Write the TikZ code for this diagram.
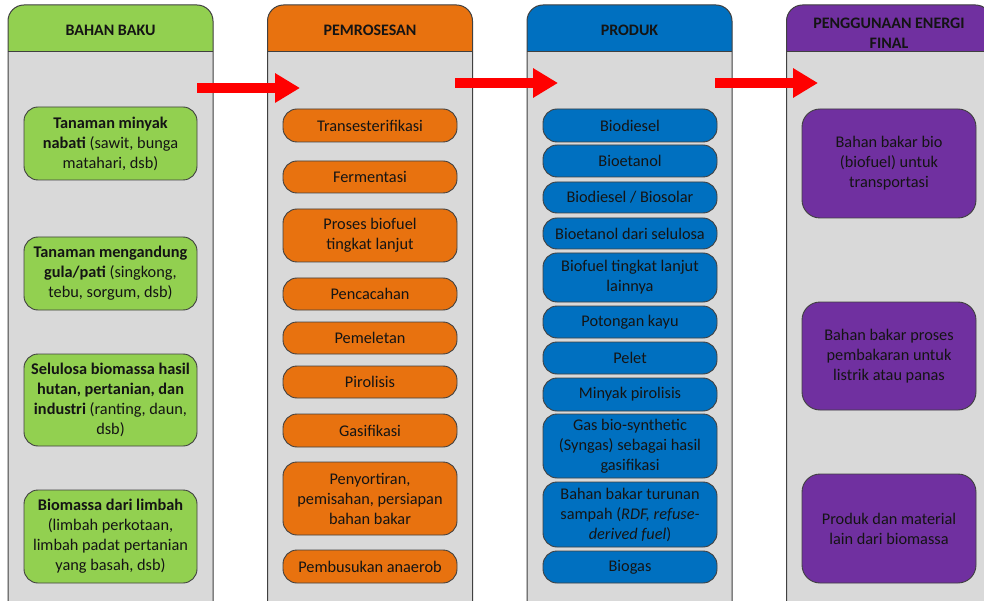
\documentclass[tikz,border=0pt]{standalone}
\usepackage{fontspec}
\setmainfont{Carlito}
\usetikzlibrary{arrows.meta}
\definecolor{frame}{HTML}{404040}
\definecolor{panel}{HTML}{D9D9D9}
\definecolor{cgreen}{HTML}{92D050}
\definecolor{corange}{HTML}{E8720F}
\definecolor{cblue}{HTML}{0070C0}
\definecolor{cpurple}{HTML}{7030A0}
\definecolor{ink}{HTML}{141414}

% panel: #1 centre x, #2 header colour
\newcommand\drawpanel[2]{%
  \fill[panel, rounded corners=16pt] (#1-102.5,650) rectangle (#1+102.5,5);
  \begin{scope}
    \clip (#1-110,0) rectangle (#1+110,52);
    \fill[#2, rounded corners=16pt] (#1-102.5,650) rectangle (#1+102.5,5);
  \end{scope}
  \draw[frame, line width=1pt] (#1-102.5,52) -- (#1+102.5,52);
  \draw[frame, line width=1pt, rounded corners=16pt] (#1-102.5,650) rectangle (#1+102.5,5);
}

\begin{document}
\begin{tikzpicture}[x=1pt,y=-1pt,
  item/.style={draw=frame, line width=0.9pt, rounded corners=14pt, align=center,
    text=ink, inner sep=2pt, font=\fontsize{16.3}{20}\selectfont},
  green/.style={item, fill=cgreen, minimum width=173pt},
  orange/.style={item, fill=corange, minimum width=174pt},
  blue/.style={item, fill=cblue, minimum width=174pt},
  purple/.style={item, fill=cpurple, minimum width=174pt, rounded corners=18pt},
  head/.style={align=center, text=ink, font=\fontsize{16}{20}\selectfont\bfseries},
  flow/.style={red, line width=10pt, -{Triangle[length=25pt,width=28pt]}}
]
\useasboundingbox (0,0) rectangle (984,601);
\clip (0,0) rectangle (984,601);
\fill[white] (0,0) rectangle (984,601);

% column panels
\drawpanel{110.5}{cgreen}
\drawpanel{370}{corange}
\drawpanel{629.5}{cblue}
\drawpanel{889}{cpurple}

% column headings
\node[head] (h1) at (110.5,30) {BAHAN BAKU};
\node[head] (h2) at (370,30) {PEMROSESAN};
\node[head] (h3) at (629.5,30) {PRODUK};
\node[head] (h4) at (889,33) {PENGGUNAAN ENERGI\\FINAL};

% raw materials
\node[green, minimum height=73pt] (r1) at (110.5,143.5)
  {\textbf{Tanaman minyak}\\\textbf{nabati} (sawit, bunga\\matahari, dsb)};
\node[green, minimum height=73pt] (r2) at (110.5,273.5)
  {\textbf{Tanaman mengandung}\\\textbf{gula/pati} (singkong,\\tebu, sorgum, dsb)};
\node[green, minimum height=92pt] (r3) at (110.5,400)
  {\textbf{Selulosa biomassa hasil}\\\textbf{hutan, pertanian, dan}\\\textbf{industri} (ranting, daun,\\dsb)};
\node[green, minimum height=93pt] (r4) at (110.5,536.5)
  {\textbf{Biomassa dari limbah}\\(limbah perkotaan,\\limbah padat pertanian\\yang basah, dsb)};

% processing
\node[orange, minimum height=33pt] (p1) at (370,125.5) {Transesterifikasi};
\node[orange, minimum height=32pt] (p2) at (370,177) {Fermentasi};
\node[orange, minimum height=53pt] (p3) at (370,235.5) {Proses biofuel\\tingkat lanjut};
\node[orange, minimum height=32pt] (p4) at (370,294) {Pencacahan};
\node[orange, minimum height=32pt] (p5) at (370,338) {Pemeletan};
\node[orange, minimum height=32pt] (p6) at (370,382) {Pirolisis};
\node[orange, minimum height=33pt] (p7) at (370,430.5) {Gasifikasi};
\node[orange, minimum height=73pt] (p8) at (370,498.5) {Penyortiran,\\pemisahan, persiapan\\bahan bakar};
\node[orange, minimum height=33pt] (p9) at (370,566.5) {Pembusukan anaerob};

% products
\node[blue, minimum height=33pt] (q1) at (630,125.5) {Biodiesel};
\node[blue, minimum height=32pt] (q2) at (630,161) {Bioetanol};
\node[blue, minimum height=31pt] (q3) at (630,197.5) {Biodiesel / Biosolar};
\node[blue, minimum height=31pt] (q4) at (630,233.5) {Bioetanol dari selulosa};
\node[blue, minimum height=49pt] (q5) at (630,277.5) {Biofuel tingkat lanjut\\lainnya};
\node[blue, minimum height=32pt] (q6) at (630,322) {Potongan kayu};
\node[blue, minimum height=32pt] (q7) at (630,358) {Pelet};
\node[blue, minimum height=33pt] (q8) at (630,394.5) {Minyak pirolisis};
\node[blue, minimum height=64pt] (q9) at (630,446) {Gas bio-synthetic\\(Syngas) sebagai hasil\\gasifikasi};
\node[blue, minimum height=65pt] (q10) at (630,514.5) {Bahan bakar turunan\\sampah (\textit{RDF, refuse-}\\\textit{derived fuel})};
\node[blue, minimum height=32pt] (q11) at (630,567) {Biogas};

% final energy use
\node[purple, minimum height=109pt] (u1) at (889,163.5) {Bahan bakar bio\\(biofuel) untuk\\transportasi};
\node[purple, minimum height=108pt] (u2) at (889,356) {Bahan bakar proses\\pembakaran untuk\\listrik atau panas};
\node[purple, minimum height=109pt] (u3) at (889,528.5) {Produk dan material\\lain dari biomassa};

% flow arrows between the columns
\coordinate (a1s) at (197,88);
\coordinate (a1e) at (300,88);
\coordinate (a2s) at (455,83);
\coordinate (a2e) at (558,83);
\coordinate (a3s) at (715,83);
\coordinate (a3e) at (818,83);
\draw[flow] (a1s) -- (a1e);
\draw[flow] (a2s) -- (a2e);
\draw[flow] (a3s) -- (a3e);
\end{tikzpicture}
\end{document}
